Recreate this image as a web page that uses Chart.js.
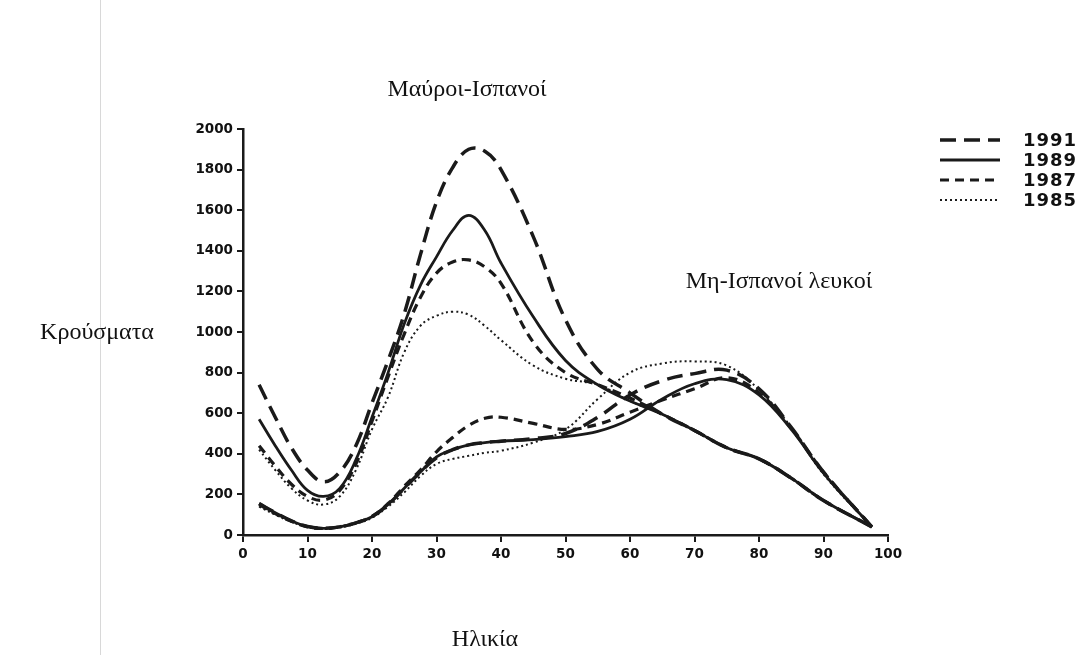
<!DOCTYPE html>
<html>
<head>
<meta charset="utf-8">
<script src="https://cdn.jsdelivr.net/npm/chart.js@4.4.1/dist/chart.umd.min.js"></script>
<style>
  body { margin: 0; background: #fff; }
  canvas { display: block; }
</style>
</head>
<body>
<canvas id="chart" width="1081" height="655"></canvas>
<script>
// ages (x) shared by every curve
const ages = [2.5, 5, 7.5, 10, 12.5, 15, 17.5, 20, 22.5, 25, 27.5, 30, 32.5, 35, 37.5, 40, 45, 50, 55, 60, 65, 70, 75, 80, 85, 90, 97.5]

const years = ['1991', '1989', '1987', '1985']

// Μαύροι-Ισπανοί
const black1991 = [740, 580, 430, 320, 262, 310, 440, 650, 860, 1090, 1380, 1640, 1810, 1900, 1890, 1800, 1470, 1060, 815, 700, 595, 515, 430, 375, 280, 170, 40]
const black1989 = [570, 440, 320, 220, 190, 230, 370, 580, 800, 1040, 1230, 1370, 1500, 1575, 1500, 1340, 1075, 860, 740, 660, 595, 515, 430, 375, 280, 170, 40]
const black1987 = [440, 340, 250, 190, 172, 220, 350, 560, 780, 990, 1170, 1290, 1345, 1355, 1320, 1240, 950, 800, 740, 675, 595, 515, 430, 375, 280, 170, 40]
const black1985 = [420, 320, 230, 170, 150, 190, 320, 520, 680, 900, 1030, 1080, 1100, 1085, 1030, 960, 835, 770, 740, 660, 595, 515, 430, 375, 280, 170, 40]

// Μη-Ισπανοί λευκοί
const white1991 = [155, 110, 70, 42, 33, 40, 60, 90, 150, 230, 310, 380, 420, 444, 455, 462, 475, 500, 580, 690, 760, 795, 812, 720, 530, 310, 40]
const white1989 = [155, 110, 70, 42, 33, 40, 60, 90, 150, 230, 310, 385, 420, 444, 455, 462, 470, 485, 510, 570, 670, 745, 765, 690, 520, 305, 40]
const white1987 = [150, 105, 68, 40, 32, 40, 60, 92, 155, 240, 320, 410, 480, 540, 575, 580, 550, 520, 545, 605, 665, 720, 775, 700, 525, 310, 40]
const white1985 = [140, 100, 65, 40, 30, 38, 55, 85, 140, 210, 290, 350, 375, 390, 405, 415, 455, 520, 670, 800, 845, 855, 835, 715, 530, 300, 40]

const xTicks = { min: 0, max: 100, step: 10 }
const yTicks = { min: 0, max: 2000, step: 200 }

const ink = '#1a1a1a'
const styles = {
    '1991': { dash: [16, 8], width: 3.5 },
    '1989': { dash: [], width: 2.8 },
    '1987': { dash: [9, 6], width: 3.2 },
    '1985': { dash: [2, 3], width: 2 }
}

const toPoints = vals => ages.map((a, i) => ({ x: a, y: vals[i] }))

const makeSet = (label, vals, group) => ({
    label,
    group,
    data: toPoints(vals),
    borderColor: ink,
    borderWidth: styles[label].width,
    borderDash: styles[label].dash,
    pointRadius: 0,
    fill: false,
    tension: 0.4
})

const datasets = [
    makeSet('1991', black1991, 'black'),
    makeSet('1989', black1989, 'black'),
    makeSet('1987', black1987, 'black'),
    makeSet('1985', black1985, 'black'),
    makeSet('1991', white1991, 'white'),
    makeSet('1989', white1989, 'white'),
    makeSet('1987', white1987, 'white'),
    makeSet('1985', white1985, 'white')
]

// texts, legend and the faint page edge
const extras = {
    id: 'extras',
    afterDraw(chart) {
        const ctx = chart.ctx
        ctx.save()

        ctx.strokeStyle = '#d8d8d8'
        ctx.lineWidth = 1
        ctx.beginPath()
        ctx.moveTo(100.5, 0)
        ctx.lineTo(100.5, 655)
        ctx.stroke()

        ctx.fillStyle = '#111'
        ctx.textAlign = 'center'
        ctx.textBaseline = 'middle'
        ctx.font = '24px "Liberation Serif", "DejaVu Serif", serif'
        ctx.fillText('Μαύροι-Ισπανοί', 467, 90)
        ctx.fillText('Μη-Ισπανοί λευκοί', 779, 282)
        ctx.fillText('Κρούσματα', 97, 333)
        ctx.fillText('Ηλικία', 485, 640)

        // legend
        ctx.textAlign = 'left'
        ctx.font = 'bold 18px "DejaVu Sans", Arial, sans-serif'
        if ('letterSpacing' in ctx) ctx.letterSpacing = '1px'
        years.forEach((yr, i) => {
            const y = 140 + i * 20
            const st = styles[yr]
            ctx.strokeStyle = ink
            ctx.lineWidth = st.width
            ctx.setLineDash(st.dash)
            ctx.beginPath()
            ctx.moveTo(940, y)
            ctx.lineTo(1000, y)
            ctx.stroke()
            ctx.setLineDash([])
            ctx.fillText(yr, 1023, y + 1)
        })
        ctx.restore()
    }
}

const tickFont = { family: '"DejaVu Sans", Arial, sans-serif', size: 13.5, weight: 'bold' }

new Chart('chart', {
    type: 'line',
    data: { datasets },
    options: {
        responsive: false,
        animation: false,
        devicePixelRatio: 1,
        layout: { padding: { top: 129, right: 193, bottom: 0, left: 0 } },
        plugins: { legend: { display: false }, tooltip: { enabled: false } },
        scales: {
            x: {
                type: 'linear',
                min: xTicks.min,
                max: xTicks.max,
                afterFit: s => { s.height = 120 },
                border: { color: ink, width: 2.5 },
                grid: { drawOnChartArea: false, tickLength: 7, color: ink, lineWidth: 2 },
                ticks: { stepSize: xTicks.step, color: '#111', padding: 4, font: tickFont, callback: v => String(v) }
            },
            y: {
                min: yTicks.min,
                max: yTicks.max,
                afterFit: s => { s.width = 243 },
                border: { color: ink, width: 2.5 },
                grid: { drawOnChartArea: false, tickLength: 6, color: ink, lineWidth: 2 },
                ticks: { stepSize: yTicks.step, color: '#111', padding: 4, font: tickFont, callback: v => String(v) }
            }
        }
    },
    plugins: [extras]
})
</script>
</body>
</html>
